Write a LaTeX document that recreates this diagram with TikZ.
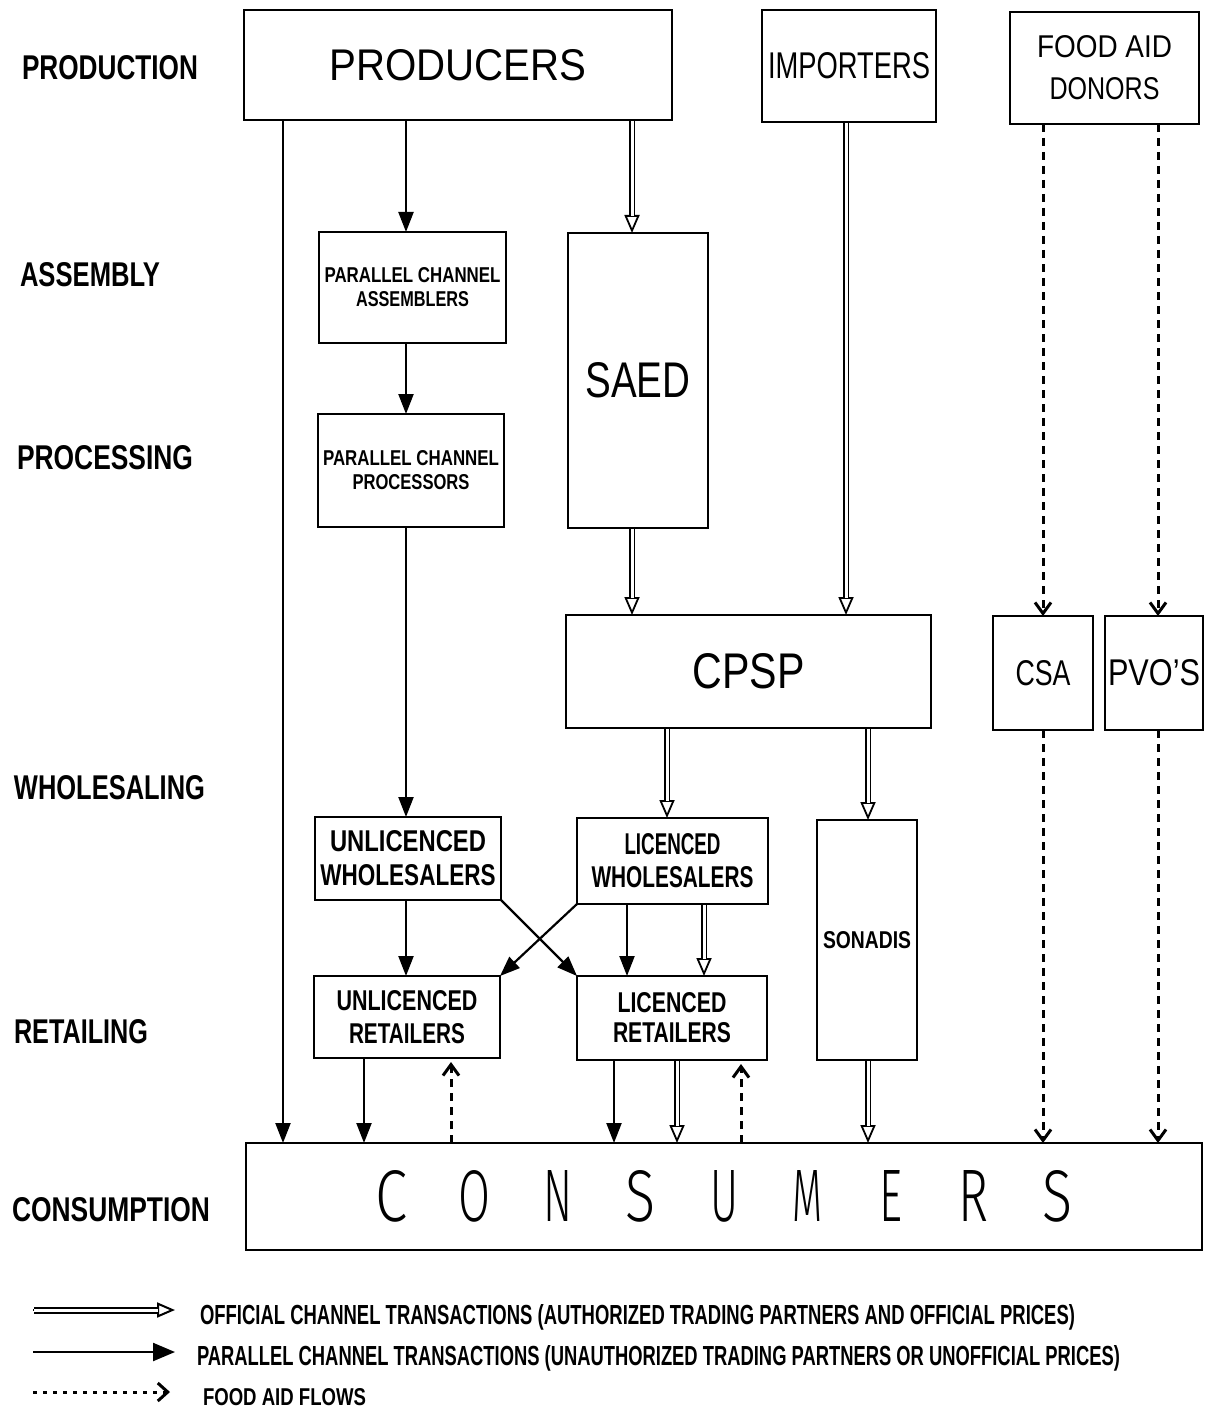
\documentclass[tikz,border=0pt]{standalone}
\usepackage{fontspec}
\setmainfont{Liberation Sans}
\newfontfamily\thinf{Fira Sans Light}
\usepackage{graphicx}
\usetikzlibrary{arrows.meta,calc}
\newlength\pxu \setlength\pxu{0.5pt}
\newcommand\txf[3]{\resizebox{#1\pxu}{#2\pxu}{#3}}
\newcommand\btxf[3]{\resizebox{#1\pxu}{#2\pxu}{\bfseries #3}}
\newcommand\dblarr[3][]{\draw[dblbase,#1] #2 -- #3; \draw[dblshaft,#1] #2 -- #3;}
\newcommand\cl[2]{\makebox[83.25\pxu]{\resizebox{#1\pxu}{51\pxu}{\thinf #2}}}
\tikzset{
  bx/.style 2 args={draw, line width=1.4pt, inner sep=0pt, outer sep=0pt,
    minimum width=#1\pxu, minimum height=#2\pxu, align=center},
  ls/.style={font=\fontsize{10pt}{#1}\selectfont},
  lbl/.style={anchor=west, inner sep=0pt, outer sep=0pt},
  par/.style={line width=1.1pt, -{Triangle[length=10pt,width=7.5pt]}},
  dblbase/.style={line width=0.9pt, -{Triangle[open,length=9pt,width=7.5pt]}},
  dblshaft/.style={line width=0.9pt, double, double distance=1.5pt,
    shorten >=8.5pt, shorten <=0.7pt},
  aid/.style={line width=1.5pt, dash pattern=on 4pt off 3pt,
    -{Straight Barb[length=5.5pt,width=8pt]}},
  aidleg/.style={line width=1.5pt, dash pattern=on 2pt off 3pt,
    -{Straight Barb[length=5pt,width=9pt]}},
}
\begin{document}
\begin{tikzpicture}[x=0.5pt,y=-0.5pt]
\fill[white] (0,0) rectangle (1207,1412);
\useasboundingbox (0,0) rectangle (1207,1412);

% stage labels
\node[lbl] (lprod) at (22,68)  {\btxf{176}{24}{PRODUCTION}};
\node[lbl] (lass)  at (20,275) {\btxf{140}{24}{ASSEMBLY}};
\node[lbl] (lproc) at (17,458) {\btxf{176}{24}{PROCESSING}};
\node[lbl] (lwho)  at (14,788) {\btxf{191}{24}{WHOLESALING}};
\node[lbl] (lret)  at (14,1032){\btxf{134}{24}{RETAILING}};
\node[lbl] (lcons) at (12,1210){\btxf{198}{24}{CONSUMPTION}};

% boxes
\node[bx={428}{110}] (prod) at (458,65) {\txf{257}{31}{PRODUCERS}};
\node[bx={174}{112}] (imp)  at (849,66) {\txf{162}{26}{IMPORTERS}};
\node[bx={189}{112}, ls=21pt] (don) at (1104.5,68)
  {\txf{135}{22}{FOOD AID}\\\txf{110}{22}{DONORS}};
\node[bx={187}{111}, ls=12pt] (pca) at (412.5,287.5)
  {\btxf{176}{15}{PARALLEL CHANNEL}\\\btxf{113}{15}{ASSEMBLERS}};
\node[bx={186}{113}, ls=12pt] (pcp) at (411,470.5)
  {\btxf{176}{15}{PARALLEL CHANNEL}\\\btxf{117}{15}{PROCESSORS}};
\node[bx={140}{295}] (saed) at (638,380.5) {\txf{105}{35}{SAED}};
\node[bx={365}{113}] (cpsp) at (748.5,671.5) {\txf{112}{35}{CPSP}};
\node[bx={100}{114}] (csa)  at (1043,673) {\txf{55}{25}{CSA}};
\node[bx={98}{114}]  (pvo)  at (1154,673) {\txf{92}{26}{PVO'S}};
\node[bx={186}{83}, ls=17pt] (uw) at (408,858.5)
  {\btxf{156}{21}{UNLICENCED}\\\btxf{175}{21}{WHOLESALERS}};
\node[bx={191}{86}, ls=16.5pt] (lw) at (672.5,861)
  {\btxf{96}{21}{LICENCED}\\\btxf{162}{21}{WHOLESALERS}};
\node[bx={100}{240}] (son) at (867,940) {\btxf{88}{17}{SONADIS}};
\node[bx={186}{82}, ls=16.5pt] (ur) at (407,1017)
  {\btxf{141}{20}{UNLICENCED}\\\btxf{116}{20}{RETAILERS}};
\node[bx={190}{84}, ls=15pt] (lr) at (672,1018)
  {\btxf{109}{20}{LICENCED}\\\btxf{118}{20}{RETAILERS}};
\node[bx={956}{107}] (cons) at (724,1196.5)
  {\cl{32}{C}\cl{32}{O}\cl{29}{N}\cl{30}{S}\cl{28}{U}\cl{30}{M}\cl{23}{E}\cl{30}{R}\cl{30}{S}};

% column coordinates
\coordinate (c1) at (283,0);
\coordinate (c2) at (406,0);
\coordinate (c3) at (632,0);
\coordinate (c4) at (846,0);
\coordinate (c5) at (1043,0);
\coordinate (c6) at (1158,0);
\coordinate (c7) at (667,0);
\coordinate (c8) at (868,0);
\coordinate (c9) at (627,0);
\coordinate (c10) at (704,0);
\coordinate (c11) at (364,0);
\coordinate (c12) at (451,0);
\coordinate (c13) at (614,0);
\coordinate (c14) at (677,0);
\coordinate (c15) at (741,0);

% parallel channel arrows
\draw[par] (prod.south -| c1) -- (cons.north -| c1);
\draw[par] (prod.south -| c2) -- (pca.north -| c2);
\draw[par] (pca.south -| c2) -- (pcp.north -| c2);
\draw[par] (pcp.south -| c2) -- (uw.north -| c2);
\draw[par] (uw.south -| c2) -- (ur.north -| c2);
\draw[par] (uw.south east) -- (lr.north west);
\draw[par] (lw.south west) -- (ur.north east);
\draw[par] (lw.south -| c9) -- (lr.north -| c9);
\draw[par] (ur.south -| c11) -- (cons.north -| c11);
\draw[par] (lr.south -| c13) -- (cons.north -| c13);

% official channel arrows
\dblarr{(prod.south -| c3)}{(saed.north -| c3)}
\dblarr{(saed.south -| c3)}{(cpsp.north -| c3)}
\dblarr{(imp.south -| c4)}{(cpsp.north -| c4)}
\dblarr{(cpsp.south -| c7)}{(lw.north -| c7)}
\dblarr{(cpsp.south -| c8)}{(son.north -| c8)}
\dblarr{(lw.south -| c10)}{(lr.north -| c10)}
\dblarr{(lr.south -| c14)}{(cons.north -| c14)}
\dblarr{(son.south -| c8)}{(cons.north -| c8)}

% food aid flows
\draw[aid] (don.south -| c5) -- (csa.north -| c5);
\draw[aid] (don.south -| c6) -- (pvo.north -| c6);
\draw[aid] (csa.south -| c5) -- (cons.north -| c5);
\draw[aid] (pvo.south -| c6) -- (cons.north -| c6);
\draw[aid, shorten >=2pt] (cons.north -| c12) -- (ur.south -| c12);
\draw[aid, shorten >=2pt] (cons.north -| c15) -- (lr.south -| c15);

% legend
\coordinate (l1a) at (33,1310);
\coordinate (l1b) at (175,1310);
\coordinate (l2a) at (33,1352);
\coordinate (l2b) at (175,1352);
\coordinate (l3a) at (33,1392);
\coordinate (l3b) at (170,1392);
\dblarr[line width=1pt]{(l1a)}{(l1b)}
\draw[par, -{Triangle[length=11pt,width=9pt]}] (l2a) -- (l2b);
\draw[aidleg] (l3a) -- (l3b);
\node[lbl] (t1) at (200,1317) {\btxf{875}{20}{OFFICIAL CHANNEL TRANSACTIONS (AUTHORIZED TRADING PARTNERS AND OFFICIAL PRICES)}};
\node[lbl] (t2) at (197,1358) {\btxf{923}{20}{PARALLEL CHANNEL TRANSACTIONS (UNAUTHORIZED TRADING PARTNERS OR UNOFFICIAL PRICES)}};
\node[lbl] (t3) at (203,1397) {\btxf{163}{17}{FOOD AID FLOWS}};
\end{tikzpicture}
\end{document}
